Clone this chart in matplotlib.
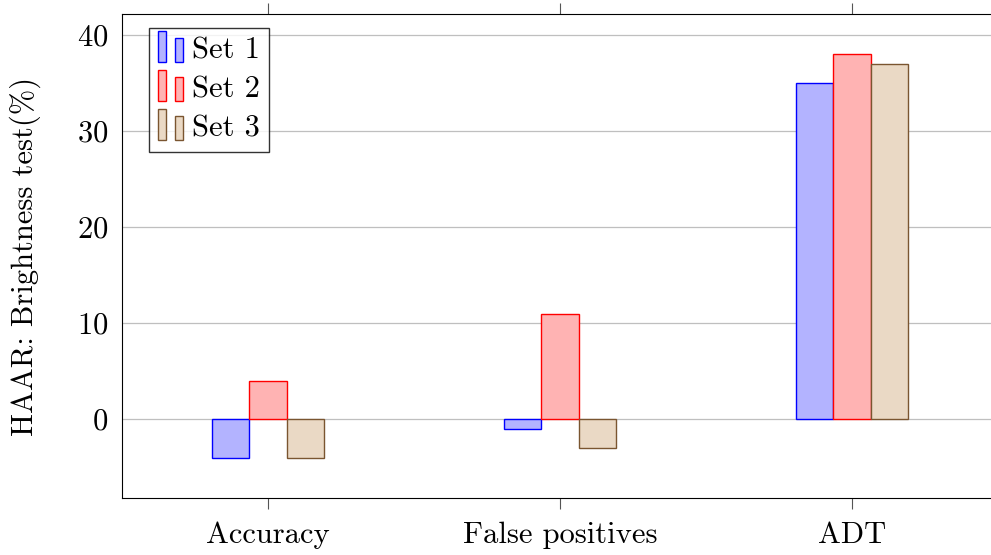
import matplotlib
matplotlib.use("Agg")
import matplotlib.pyplot as plt
import numpy as np
from matplotlib.legend_handler import HandlerBase
from matplotlib.patches import Rectangle

plt.rcParams["font.family"] = "serif"
plt.rcParams["font.serif"] = ["cmr10", "DejaVu Serif"]
plt.rcParams["axes.formatter.use_mathtext"] = True
plt.rcParams["mathtext.fontset"] = "cm"

categories = ["Accuracy", "False positives", "ADT"]
series_names = ["Set 1", "Set 2", "Set 3"]
set1 = [-4, -1, 35]
set2 = [4, 11, 38]
set3 = [-4, -3, 37]

fills = ["#b3b3ff", "#ffb3b3", "#ead9c5"]
edges = ["#0000ff", "#ff0000", "#7a5530"]


class TwoBarHandler(HandlerBase):
    def create_artists(self, legend, orig_handle, xdescent, ydescent,
                       width, height, fontsize, trans):
        fc = orig_handle.get_facecolor()
        ec = orig_handle.get_edgecolor()
        w = width * 0.33
        r1 = Rectangle((-xdescent, -ydescent - 0.15 * height), w, height * 1.45,
                       facecolor=fc, edgecolor=ec, lw=1, transform=trans)
        r2 = Rectangle((-xdescent + width * 0.67, -ydescent - 0.15 * height), w, height * 1.1,
                       facecolor=fc, edgecolor=ec, lw=1, transform=trans)
        return [r1, r2]


fig = plt.figure(figsize=(9.91, 5.55), dpi=100)
ax = fig.add_axes([0.1231, 0.1027, 0.8840, 0.8721])

x = np.arange(len(categories))
bw = 0.127
handles = []
for i, vals in enumerate([set1, set2, set3]):
    b = ax.bar(x + (i - 1) * bw, vals, bw, color=fills[i], edgecolor=edges[i],
               linewidth=1, label=series_names[i], zorder=3)
    handles.append(b.patches[0])

ax.set_xlim(-0.5, 2.5)
ax.set_ylim(-8.2, 42.2)
ax.set_xticks(x)
ax.set_xticklabels(categories)
ax.set_yticks([0, 10, 20, 30, 40])
ax.yaxis.grid(True, color="#bfbfbf", linewidth=0.9, zorder=0)
ax.tick_params(axis="x", direction="out", labelsize=22, length=8,
               top=True, pad=9, width=0.8, color="#555555")
ax.tick_params(axis="y", length=0, labelsize=22, pad=10)
ax.set_ylabel("HAAR: Brightness test(%)", fontsize=22, labelpad=26)

leg = ax.legend(handles, series_names, handler_map={h: TwoBarHandler() for h in handles},
                loc="upper left", bbox_to_anchor=(0.031, 0.971), fontsize=22,
                frameon=True, fancybox=False, edgecolor="black",
                handlelength=0.8, handletextpad=0.3, borderpad=0.3,
                labelspacing=0.38, borderaxespad=0)
leg.get_frame().set_linewidth(1)

fig.savefig("out.png", dpi=100)
